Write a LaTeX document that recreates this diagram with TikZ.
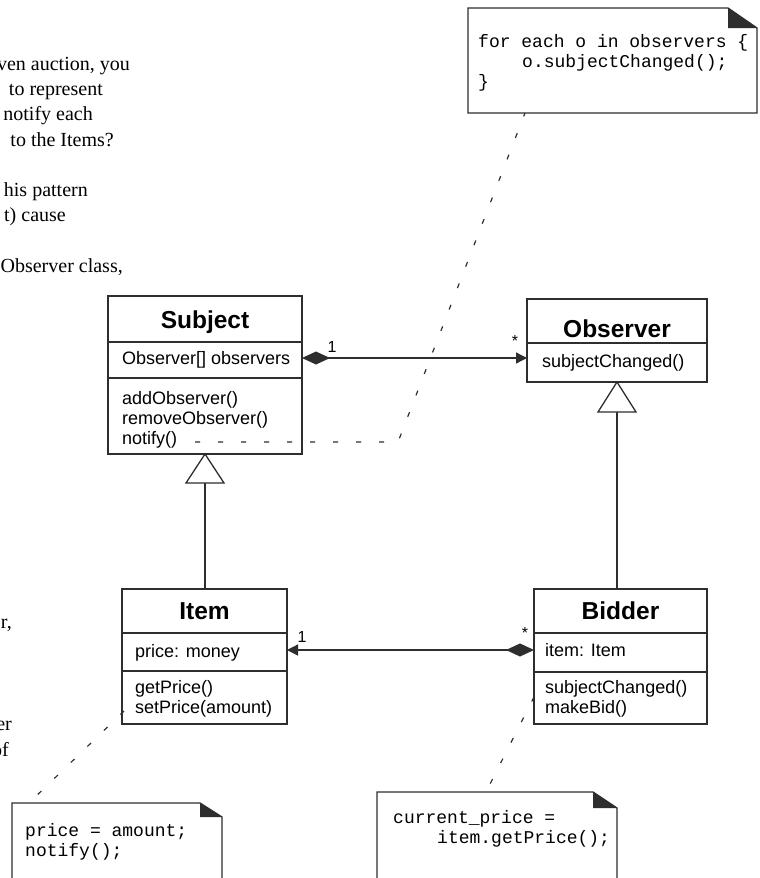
\documentclass[tikz,border=0pt]{standalone}
\usepackage{fontspec}
\setmainfont{Liberation Serif}
\newfontfamily\umlfont{Liberation Sans}
\newfontfamily\codefont{Liberation Mono}
\usetikzlibrary{arrows.meta}
\definecolor{lc}{gray}{0.18}
\begin{document}
\begin{tikzpicture}[x=1pt,y=-1pt,
  umlbox/.style={draw=lc,line width=1.4pt,inner sep=0pt,outer sep=0pt,fill=white},
  divider/.style={draw=lc,line width=1.4pt},
  bodytxt/.style={font=\umlfont\fontsize{18}{20}\selectfont,anchor=base west,inner sep=0pt},
  titletxt/.style={font=\umlfont\bfseries\fontsize{24.5}{28}\selectfont,anchor=base,inner sep=0pt},
  codetxt/.style={font=\codefont\fontsize{18}{20}\selectfont,anchor=base west,inner sep=0pt},
  prose/.style={font=\fontsize{20}{25}\selectfont,anchor=base east,inner sep=0pt},
  multtxt/.style={font=\umlfont\fontsize{16}{18}\selectfont,inner sep=0pt},
  assoc/.style={draw=lc,line width=1.3pt},
  genline/.style={draw=lc,line width=1.3pt},
  gentri/.style={draw=lc,line width=1.3pt,fill=white,line join=miter},
  notebox/.style={draw=lc,line width=1.3pt,fill=white},
  notefold/.style={fill=lc},
  dotline/.style={draw=lc,line width=1.2pt,dash pattern=on 5pt off 18pt}
]
\useasboundingbox (0,0) rectangle (760,878);

% ---- cut-off prose on the left ----
\node[prose] (p1) at (130,70) {ven auction, you};
\node[prose] (p2) at (103,95) {to represent};
\node[prose] (p3) at (93,120) {notify each};
\node[prose] (p4) at (114,146) {to the Items?};
\node[prose] (p5) at (88,196) {his pattern};
\node[prose] (p6) at (66,221) {t) cause};
\node[prose] (p7) at (123,272) {Observer class,};
\node[prose] (p8) at (12,628) {r,};
\node[prose] (p9) at (12,730) {er};
\node[prose] (p10) at (9,756) {of};

% ---- notes ----
\draw[notebox] (468,8) -- (728,8) -- (757,28) -- (757,113) -- (468,113) -- cycle;
\fill[notefold] (728,8) -- (757,28) -- (728,28) -- cycle;
\node[codetxt] (n1a) at (478,47) {for each o in observers \{};
\node[codetxt] (n1b) at (522,67) {o.subjectChanged();};
\node[codetxt] (n1c) at (478,87) {\}};
\coordinate (n1bottom) at (525,113);

\draw[notebox] (12,803) -- (200,803) -- (222,817) -- (222,895) -- (12,895) -- cycle;
\fill[notefold] (200,803) -- (222,817) -- (200,817) -- cycle;
\node[codetxt] (n2a) at (25,836) {price = amount;};
\node[codetxt] (n2b) at (25,856) {notify();};
\coordinate (n2top) at (29,803);

\draw[notebox] (377,792) -- (593,792) -- (617,808) -- (617,895) -- (377,895) -- cycle;
\fill[notefold] (593,792) -- (617,808) -- (593,808) -- cycle;
\node[codetxt] (n3a) at (393,823) {current\_price =};
\node[codetxt] (n3b) at (437,843) {item.getPrice();};
\coordinate (n3top) at (486,792);

% ---- class boxes ----
\node[umlbox,minimum width=194pt,minimum height=158pt] (subj) at (205,375) {};
\draw[divider] (108,342) -- (302,342);
\draw[divider] (108,378) -- (302,378);
\node[titletxt] (subjT) at (205,328) {Subject};
\node[bodytxt] (subjA) at (122,364) {Observer[] observers};
\node[bodytxt] (subjM1) at (122,404) {addObserver()};
\node[bodytxt] (subjM2) at (122,424) {removeObserver()};
\node[bodytxt] (subjM3) at (122,444) {notify()};

\node[umlbox,minimum width=180pt,minimum height=83pt] (obs) at (617,340.5) {};
\draw[divider] (527,343) -- (707,343);
\node[titletxt] (obsT) at (617,337) {Observer};
\node[bodytxt] (obsM1) at (542,367) {subjectChanged()};

\node[umlbox,minimum width=165pt,minimum height=135pt] (item) at (204.5,656.5) {};
\draw[divider] (122,633) -- (287,633);
\draw[divider] (122,671) -- (287,671);
\node[titletxt] (itemT) at (204.5,619) {Item};
\node[bodytxt] (itemA) at (135,657) {price: money};
\node[bodytxt] (itemM1) at (135,693) {getPrice()};
\node[bodytxt] (itemM2) at (135,713) {setPrice(amount)};

\node[umlbox,minimum width=173pt,minimum height=135pt] (bidder) at (620.5,656.5) {};
\draw[divider] (534,633) -- (707,633);
\draw[divider] (534,672) -- (707,672);
\node[titletxt] (bidT) at (620.5,619) {Bidder};
\node[bodytxt] (bidA) at (545,656) {item: Item};
\node[bodytxt] (bidM1) at (545,693) {subjectChanged()};
\node[bodytxt] (bidM2) at (545,713) {makeBid()};

% ---- generalizations ----
\coordinate (gs) at (205,483);
\coordinate (go) at (617,412);
\draw[genline] (gs) -- (gs |- item.north);
\draw[gentri] (subj.south) -- (186,483) -- (224,483) -- cycle;
\draw[genline] (go) -- (go |- bidder.north);
\draw[gentri] (obs.south) -- (598,412) -- (636,412) -- cycle;

% ---- associations ----
\draw[assoc,{Diamond[length=28pt,width=13pt]}-{Triangle[length=11pt,width=11pt]}]
  (subj.east |- 0,358) -- (obs.west |- 0,358);
\node[multtxt] (m1) at (332,347) {1};
\node[multtxt] (m2) at (515,341) {*};
\draw[assoc,{Triangle[length=11pt,width=11pt]}-{Diamond[length=28pt,width=13pt]}]
  (item.east |- 0,650) -- (bidder.west |- 0,650);
\node[multtxt] (m3) at (302,637) {1};
\node[multtxt] (m4) at (525,633) {*};

% ---- note connectors ----
\coordinate (d0) at (195,442);
\coordinate (d1) at (398,442);
\draw[dotline] (d0) -- (d1) -- (n1bottom);
\coordinate (ic) at (124,711);
\draw[dotline] (ic) -- (n2top);
\coordinate (bc) at (534,697);
\draw[dotline] (bc) -- (n3top);
\end{tikzpicture}
\end{document}
